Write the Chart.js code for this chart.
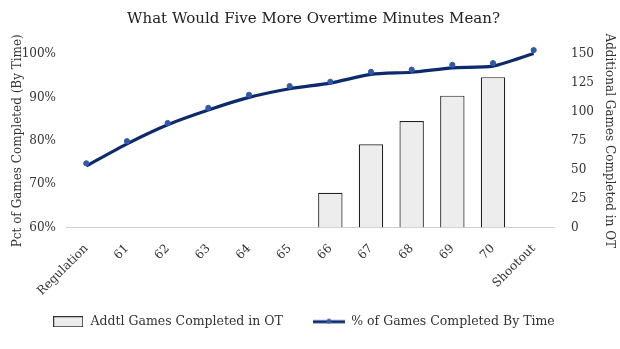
<!DOCTYPE html>
<html>
<head>
<meta charset="utf-8">
<script src="https://cdn.jsdelivr.net/npm/chart.js@4/dist/chart.umd.min.js"></script>
<style>
  html, body { margin: 0; padding: 0; background: #ffffff; }
  #wrap { width: 620px; height: 349px; position: relative; }
</style>
</head>
<body>
<div id="wrap"><canvas id="c" width="620" height="349"></canvas></div>
<script>
const categories = ['Regulation', '61', '62', '63', '64', '65', '66', '67', '68', '69', '70', 'Shootout'];
const addtlGames = [null, null, null, null, null, null, 30, 72, 92, 114, 130, null];
const pctMarkers = [74.8, 79.9, 84.1, 87.6, 90.6, 92.6, 93.6, 95.9, 96.4, 97.5, 97.9, 100.9];
const pctLine = [74.2, 79.3, 83.7, 87.1, 90.0, 92.0, 93.3, 95.3, 95.8, 96.8, 97.2, 100.1];
const leftTicks = [60, 70, 80, 90, 100];
const rightTicks = [0, 25, 50, 75, 100, 125, 150];

const FONT = "'DejaVu Serif', serif";
const NAVY = '#0c2a6c';
const MARK = '#3259a8';
const TEXT = '#333333';

function legendBar() {
  const c = document.createElement('canvas');
  c.width = 30; c.height = 11;
  const g = c.getContext('2d');
  g.fillStyle = '#ececec'; g.fillRect(0.5, 0.5, 29, 10);
  g.strokeStyle = '#333'; g.lineWidth = 1; g.strokeRect(0.5, 0.5, 29, 10);
  return c;
}
function legendLine() {
  const c = document.createElement('canvas');
  c.width = 32; c.height = 8;
  const g = c.getContext('2d');
  g.strokeStyle = NAVY; g.lineWidth = 3;
  g.beginPath(); g.moveTo(0, 4); g.lineTo(32, 4); g.stroke();
  g.fillStyle = MARK; g.beginPath(); g.arc(16, 3.5, 2.5, 0, Math.PI * 2); g.fill();
  return c;
}

const shiftLegend = {
  id: 'shiftLegend',
  afterLayout(chart) {
    const lg = chart.legend;
    if (lg) { lg.left -= 10; lg.right -= 10; }
  }
};

new Chart(document.getElementById('c'), {
  plugins: [shiftLegend],
  data: {
    labels: categories,
    datasets: [
      {
        type: 'line', label: '% of Games Completed By Time', data: pctMarkers, yAxisID: 'y',
        showLine: false, pointRadius: 2.6, pointBackgroundColor: MARK, pointBorderColor: MARK,
        borderColor: NAVY, order: 0, clip: false
      },
      {
        type: 'line', label: 'trend', data: pctLine, yAxisID: 'y',
        borderColor: NAVY, borderWidth: 3.2, pointRadius: 0, tension: 0.22, order: 1, clip: false
      },
      {
        type: 'bar', label: 'Addtl Games Completed in OT', data: addtlGames, yAxisID: 'y1',
        backgroundColor: '#ededed', borderColor: '#222', borderWidth: 1.2,
        categoryPercentage: 1, barPercentage: 0.6, order: 2
      }
    ]
  },
  options: {
    responsive: false, animation: false,
    layout: { padding: { top: 4, bottom: 11, left: 11, right: 4 } },
    plugins: {
      title: {
        display: true, text: 'What Would Five More Overtime Minutes Mean?',
        color: '#222', font: { family: FONT, size: 15, weight: 'normal' }, padding: { top: 6, bottom: 26 }
      },
      legend: {
        position: 'bottom',
        labels: {
          usePointStyle: true, pointStyleWidth: 32, color: TEXT,
          font: { family: FONT, size: 12.5 }, padding: 30,
          generateLabels: () => [
            { text: 'Addtl Games Completed in OT', pointStyle: legendBar(), datasetIndex: 2, fontColor: TEXT, lineWidth: 0, strokeStyle: 'transparent', fillStyle: 'transparent' },
            { text: '% of Games Completed By Time', pointStyle: legendLine(), datasetIndex: 0, fontColor: TEXT, lineWidth: 0, strokeStyle: 'transparent', fillStyle: 'transparent' }
          ]
        }
      },
      tooltip: { enabled: false }
    },
    scales: {
      x: {
        grid: { display: false, drawTicks: false },
        border: { display: true, color: '#d0d0d0', width: 1 },
        afterFit: (s) => { s.height = s.height - 27; s._computeLabelArea = () => undefined; },
        ticks: { color: TEXT, font: { family: FONT, size: 12 }, maxRotation: 45, minRotation: 45, padding: 14 }
      },
      y: {
        position: 'left', min: 60, max: 100,
        afterBuildTicks: (s) => { s.ticks = leftTicks.map(v => ({ value: v })); },
        afterFit: (s) => { s.width = 55; },
        grid: { display: false, drawTicks: false },
        border: { display: false },
        ticks: { color: TEXT, font: { family: FONT, size: 12 }, padding: 10, callback: (v) => v + '%' },
        title: { display: true, text: 'Pct of Games Completed (By Time)', color: TEXT, font: { family: FONT, size: 12 }, padding: 0 }
      },
      y1: {
        position: 'right', min: 0, max: 150,
        afterBuildTicks: (s) => { s.ticks = rightTicks.map(v => ({ value: v })); },
        afterFit: (s) => { s.width = 62; },
        grid: { display: false, drawTicks: false },
        border: { display: false },
        ticks: { color: TEXT, font: { family: FONT, size: 12 }, padding: 17 },
        title: { display: true, text: 'Additional Games Completed in OT', color: TEXT, font: { family: FONT, size: 12 }, padding: 0 }
      }
    }
  }
});
</script>
</body>
</html>
